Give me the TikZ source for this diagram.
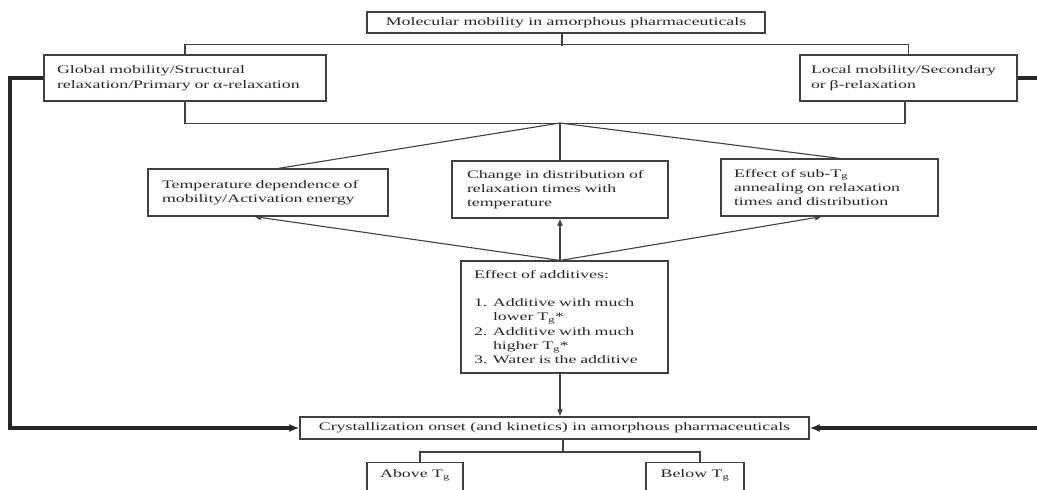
\documentclass[tikz,border=0pt]{standalone}
\usepackage{fontspec}
\setmainfont[FakeStretch=1.55]{Liberation Serif}
\usetikzlibrary{arrows.meta,calc}
\begin{document}
\begin{tikzpicture}[x=1pt,y=-1pt,
  box/.style={draw=black!75, line width=1.1pt, text=black!85, inner sep=0pt,
    font={\fontsize{11.5}{14.3}\selectfont}},
  lbox/.style={box, align=left},
  conn/.style={draw=black!75, line width=1.1pt},
  arr/.style={conn, -{Latex[length=7pt,width=6pt]}},
  heavy/.style={draw=black!85, line width=3.2pt, line join=miter},
  heavyarr/.style={heavy, -{Latex[length=10pt,width=8pt]}}
]
\useasboundingbox (0,0) rectangle (1037,490);
\clip (0,0) rectangle (1037,490);

% nodes
\node[box, minimum width=398pt, minimum height=21pt] (top) at (566,22.5)
  {Molecular mobility in amorphous pharmaceuticals};
\node[lbox, minimum width=282pt, minimum height=46pt, text width=256pt,
  font={\fontsize{11.5}{15.5}\selectfont}] (global) at (185,78)
  {Global mobility/Structural\\relaxation/Primary or α-relaxation};
\node[lbox, minimum width=217pt, minimum height=46pt, text width=195pt,
  font={\fontsize{11.5}{15.5}\selectfont}] (local) at (908.5,78)
  {Local mobility/Secondary\\or β-relaxation};
\node[lbox, minimum width=240pt, minimum height=47pt, text width=212pt] (temp) at (268,192.5)
  {Temperature dependence of\\mobility/Activation energy};
\node[lbox, minimum width=216pt, minimum height=57pt, text width=186pt] (change) at (560,189.5)
  {Change in distribution of\\relaxation times with\\temperature};
\node[lbox, minimum width=217pt, minimum height=57pt, text width=191pt] (subtg) at (829.5,187.5)
  {Effect of sub-T\textsubscript{g}\\annealing on relaxation\\times and distribution};
\node[lbox, minimum width=207pt, minimum height=112pt, text width=181pt] (add) at (564.5,317)
  {Effect of additives:\\[14.3pt]
   \makebox[19pt][l]{1.}Additive with much\\
   \hspace*{19pt}lower T\textsubscript{g}*\\
   \makebox[19pt][l]{2.}Additive with much\\
   \hspace*{19pt}higher T\textsubscript{g}*\\
   \makebox[19pt][l]{3.}Water is the additive};
\node[box, minimum width=509pt, minimum height=22pt] (cryst) at (554.5,428)
  {Crystallization onset (and kinetics) in amorphous pharmaceuticals};
\node[box, anchor=north, minimum width=96pt, text height=8pt, text depth=24pt, inner ysep=7pt] (above) at (415,462)
  {Above T\textsubscript{g}};
\node[box, anchor=north, minimum width=98pt, text height=8pt, text depth=24pt, inner ysep=7pt] (below) at (695,462)
  {Below T\textsubscript{g}};

% connectors at the top
\draw[conn] ([xshift=-4pt]top.south) -- ++(0,12);
\draw[conn] (global.north) -- ++(0,-10) -| (local.north);
\draw[conn] (global.south) -- ++(0,22) -| ([xshift=-3.5pt]local.south);
\coordinate (hub) at (560,123);
\draw[conn] (hub) -- ([xshift=10pt]temp.north);
\draw[conn] (hub) -- (change.north);
\draw[conn] (hub) -- ([xshift=10.5pt]subtg.north);

% arrows from additives
\coordinate (atop) at ([xshift=-4.5pt]add.north);
\draw[arr] (atop) -- ([xshift=-14pt]temp.south);
\draw[arr, line width=2.2pt] (atop) -- (change.south);
\draw[arr] (atop) -- ([xshift=-7.5pt]subtg.south);
\draw[arr] ([xshift=-4.5pt]add.south) -- ([xshift=5.5pt]cryst.north);

% bottom branch
\draw[conn] ([xshift=8.5pt]cryst.south) -- ++(0,13);
\draw[conn] ([xshift=5pt]above.north) -- ++(0,-10) -| ([xshift=5pt]below.north);

% heavy side lines
\coordinate (lc1) at (10,78);
\coordinate (lc2) at (10,428);
\coordinate (rc1) at (1045,78);
\coordinate (rc2) at (1045,428);
\draw[heavyarr] (global.west) -- (lc1) -- (lc2) -- (cryst.west);
\draw[heavy] (local.east) -- (rc1);
\draw[heavyarr] (rc2) -- (cryst.east);
\end{tikzpicture}
\end{document}
